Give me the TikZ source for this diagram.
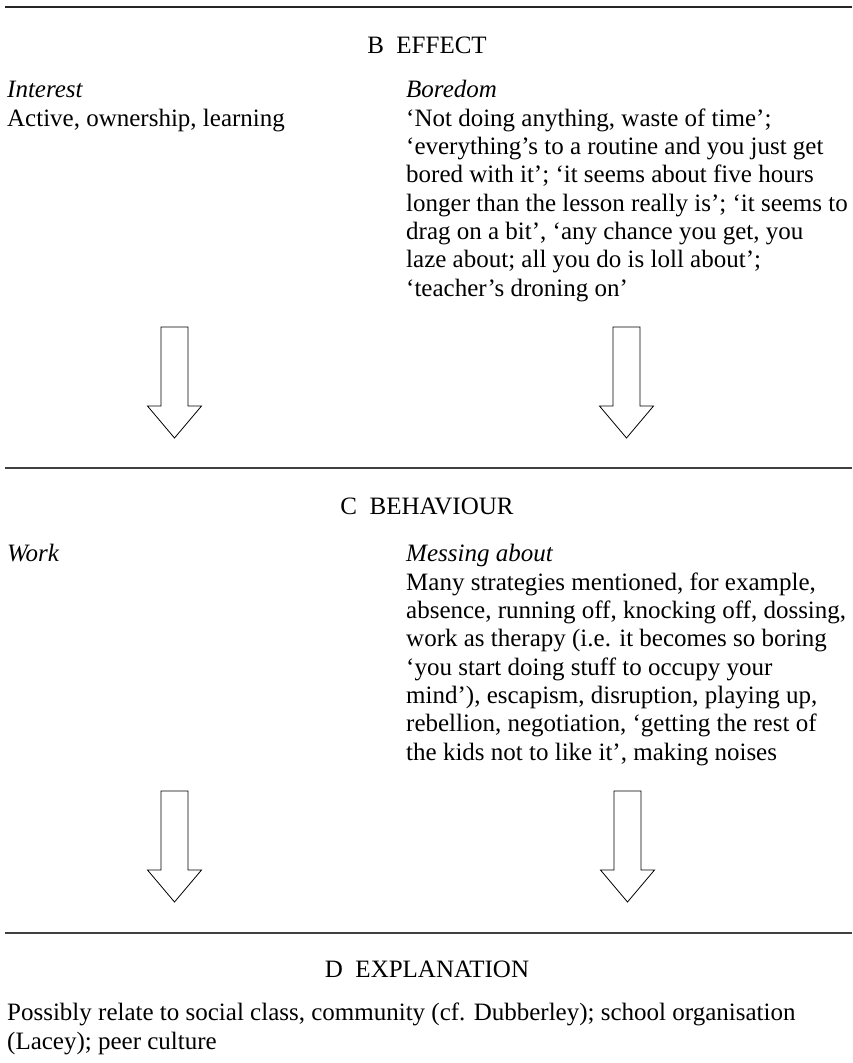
\documentclass[tikz,border=0pt]{standalone}
\usepackage{fontspec}
\setmainfont{Liberation Serif}
\usetikzlibrary{positioning}
\tikzset{
  secthead/.style={font=\fontsize{25}{28.3}\selectfont, inner sep=0pt, anchor=base},
  colhead/.style={font=\fontsize{25}{28.3}\selectfont\itshape, inner sep=0pt, anchor=base west},
  % multi-line text: the base anchor sits on the last line
  coltext/.style={font=\fontsize{25}{28.3}\selectfont, inner sep=0pt, anchor=base west, align=left},
  rulebar/.style={line width=1.4pt, black!75},
  blockarrow/.style={line width=0.8pt, fill=white},
}

\begin{document}
\begin{tikzpicture}[x=1pt,y=-1pt]
  \useasboundingbox (0,0) rectangle (852,1063);
  %---- B: effect ------------------------------------------------------------
  \draw[rulebar, line width=2.3pt, black!85] (5,7) -- (852,7);
  \node[secthead] (effect) at (427,53) {B\enspace EFFECT};
  \node[colhead] (interest) at (7,97) {Interest};
  \node[coltext] (interesttxt) at (7,126) {Active, ownership, learning};
  \node[colhead] (boredom) at (406,97) {Boredom};
  \node[coltext] (boredomtxt) at (406,296)
    {‘Not doing anything, waste of time’;\\
     ‘everything’s to a routine and you just get\\
     bored with it’; ‘it seems about five hours\\
     longer than the lesson really is’; ‘it seems to\\
     drag on a bit’, ‘any chance you get, you\\
     laze about; all you do is loll about’;\\
     ‘teacher’s droning on’};
  %---- C: behaviour ---------------------------------------------------------
  \draw[rulebar] (5,468) -- (852,468);
  \node[secthead] (behaviour) at (427,514) {C\enspace BEHAVIOUR};
  \node[colhead] (work) at (7,561) {Work};
  \node[colhead] (messing) at (406,561) {Messing about};
  \node[coltext] (messingtxt) at (406,760)
    {Many strategies mentioned, for example,\\
     absence, running off, knocking off, dossing,\\
     work as therapy (i.e. it becomes so boring\\
     ‘you start doing stuff to occupy your\\
     mind’), escapism, disruption, playing up,\\
     rebellion, negotiation, ‘getting the rest of\\
     the kids not to like it’, making noises};
  %---- D: explanation -------------------------------------------------------
  \draw[rulebar] (5,933) -- (852,933);
  \node[secthead] (explanation) at (427,977) {D\enspace EXPLANATION};
  \node[coltext] (explaintxt) at (7,1049)
    {Possibly relate to social class, community (cf. Dubberley); school organisation\\
     (Lacey); peer culture};
  %---- arrows between the rows ----------------------------------------------
  \foreach \ax/\ay in {174.5/327, 626.5/327, 174.5/791, 627.5/791}
    \draw[blockarrow] (\ax-13.5,\ay) -- (\ax+13.5,\ay) -- (\ax+13.5,\ay+79)
      -- (\ax+27,\ay+79) -- (\ax,\ay+111) -- (\ax-27,\ay+79)
      -- (\ax-13.5,\ay+79) -- cycle;
\end{tikzpicture}
\end{document}
